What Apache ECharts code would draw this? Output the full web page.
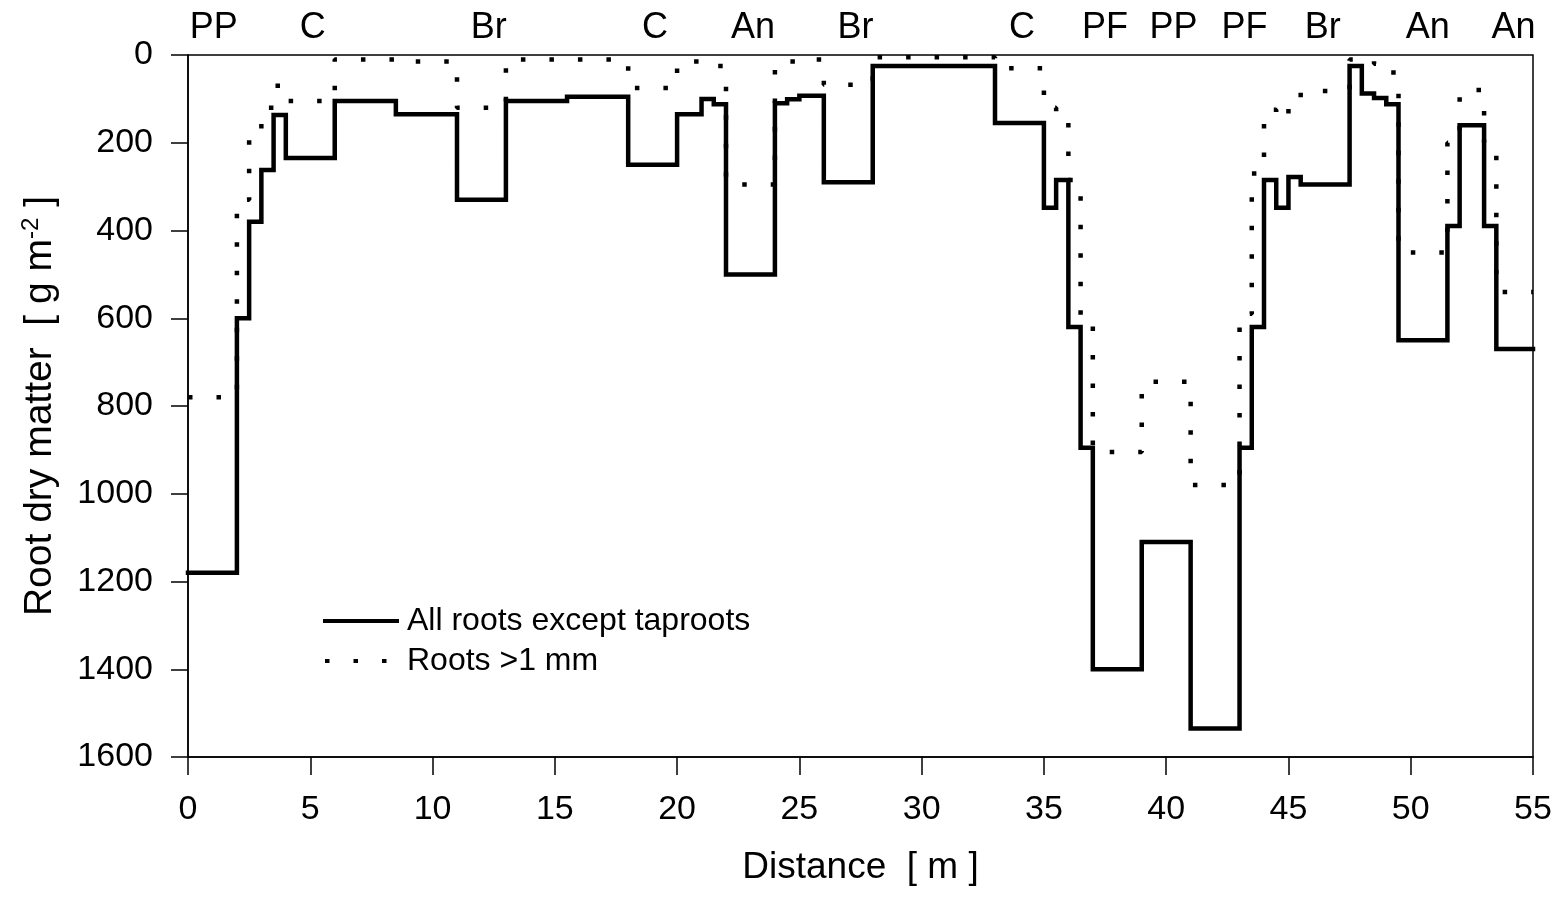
<!DOCTYPE html>
<html>
<head>
<meta charset="utf-8">
<script src="https://cdn.jsdelivr.net/npm/echarts@6/dist/echarts.min.js"></script>
<style>
html,body{margin:0;padding:0;background:#fff;}
#chart{width:1559px;height:899px;}
</style>
</head>
<body>
<div id="chart"></div>
<script>
// Segment start positions along the transect [m]; each segment runs to the next start (last to 55)
const segmentStarts = [0, 2, 2.5, 3, 3.5, 4, 6, 8.5, 11, 13, 15.5, 18, 20, 21, 21.5, 22, 24, 24.5, 25, 26, 28, 33, 35, 35.5, 36, 36.5, 37, 39, 41, 43, 43.5, 44, 44.5, 45, 45.5, 47.5, 48, 48.5, 49, 49.5, 51.5, 52, 53, 53.5];
const transectEnd = 55;
// All roots except taproots [g m-2]
const allRoots = [1180, 600, 380, 262, 137, 235, 105, 135, 330, 105, 95, 250, 135, 100, 112, 500, 110, 101, 93, 290, 25, 155, 348, 285, 620, 895, 1400, 1110, 1535, 895, 620, 285, 348, 278, 295, 25, 88, 98, 112, 650, 390, 160, 390, 670];
// Roots > 1 mm [g m-2]
const coarseRoots = [780, 330, 180, 120, 70, 105, 10, 15, 120, 10, 10, 75, 15, 20, 25, 295, 30, 15, 10, 68, 5, 30, 120, 140, 285, 600, 905, 745, 980, 590, 270, 125, 145, 115, 82, 10, 8, 20, 40, 450, 200, 80, 200, 540];
// Vegetation labels above the plot
const vegLabels = ['PP', 'C', 'Br', 'C', 'An', 'Br', 'C', 'PF', 'PP', 'PF', 'Br', 'An', 'An'];
const vegLabelPos = [1.05, 5.1, 12.3, 19.1, 23.1, 27.3, 34.1, 37.5, 40.3, 43.2, 46.4, 50.7, 54.2];
const xTicks = {min: 0, max: 55, interval: 5};
const yTicks = {min: 0, max: 1600, interval: 200};

function stepData(values) {
  const d = segmentStarts.map((x, i) => [x, values[i]]);
  d.push([transectEnd, values[values.length - 1]]);
  return d;
}

const FONT = 'Liberation Sans, Arial, sans-serif';
const chart = echarts.init(document.getElementById('chart'), null, {renderer: 'canvas'});
chart.setOption({
  backgroundColor: '#ffffff',
  animation: false,
  textStyle: {fontFamily: FONT, color: '#000'},
  grid: {left: 188, right: 26, top: 55, bottom: 142, show: true, borderColor: '#000', borderWidth: 1.5, backgroundColor: 'transparent', containLabel: false},
  legend: {
    data: ['All roots except taproots', 'Roots >1 mm'],
    orient: 'vertical',
    left: 318,
    top: 600,
    itemWidth: 72,
    itemHeight: 14,
    itemGap: 8,
    selectedMode: false,
    itemStyle: {opacity: 0},
    lineStyle: {width: 4},
    textStyle: {fontFamily: FONT, fontSize: 32, color: '#000', lineHeight: 32, padding: [0, 0, 0, 5]}
  },
  xAxis: {
    type: 'value',
    min: xTicks.min, max: xTicks.max, interval: xTicks.interval,
    name: 'Distance  [ m ]',
    nameLocation: 'middle',
    nameGap: 92,
    nameTextStyle: {fontFamily: FONT, fontSize: 37, color: '#000'},
    axisLine: {show: true, onZero: false, lineStyle: {color: '#000', width: 1.5}},
    axisTick: {show: true, inside: false, length: 18, lineStyle: {color: '#000', width: 1.5}},
    axisLabel: {margin: 36, fontFamily: FONT, fontSize: 34, color: '#000', formatter: v => String(v)},
    splitLine: {show: false}
  },
  yAxis: {
    type: 'value',
    inverse: true,
    min: yTicks.min, max: yTicks.max, interval: yTicks.interval,
    name: 'Root dry matter  [ g m{sup|-2} ]',
    nameLocation: 'middle',
    nameGap: 127,
    nameRotate: 90,
    nameTextStyle: {
      fontFamily: FONT, fontSize: 39, color: '#000', lineHeight: 42,
      rich: {sup: {fontFamily: FONT, fontSize: 24, color: '#000', verticalAlign: 'top', lineHeight: 24, padding: [0, 0, 18, 0]}}
    },
    axisLine: {show: true, onZero: false, lineStyle: {color: '#000', width: 1.5}},
    axisTick: {show: true, inside: false, length: 17, lineStyle: {color: '#000', width: 1.5}},
    axisLabel: {margin: 35, fontFamily: FONT, fontSize: 34, color: '#000', formatter: v => String(v)},
    splitLine: {show: false}
  },
  series: [
    {
      name: 'Roots >1 mm',
      type: 'line',
      step: 'end',
      symbol: 'none',
      data: stepData(coarseRoots),
      lineStyle: {color: '#000', width: 4.5, type: [4.5, 24], cap: 'butt'},
      itemStyle: {color: '#000'},
      z: 2
    },
    {
      name: 'All roots except taproots',
      type: 'line',
      step: 'end',
      symbol: 'none',
      data: stepData(allRoots),
      lineStyle: {color: '#000', width: 4.5, type: 'solid', join: 'miter', cap: 'square'},
      itemStyle: {color: '#000'},
      z: 3
    },
    {
      name: 'veg',
      type: 'scatter',
      symbolSize: 0,
      clip: false,
      silent: true,
      itemStyle: {color: '#000', opacity: 1},
      data: vegLabels.map((t, i) => ({name: t, value: [vegLabelPos[i], 0]})),
      label: {show: true, position: 'top', distance: 9, formatter: '{b}', fontFamily: FONT, fontSize: 36, color: '#000', opacity: 1}
    }
  ]
});
</script>
</body>
</html>
